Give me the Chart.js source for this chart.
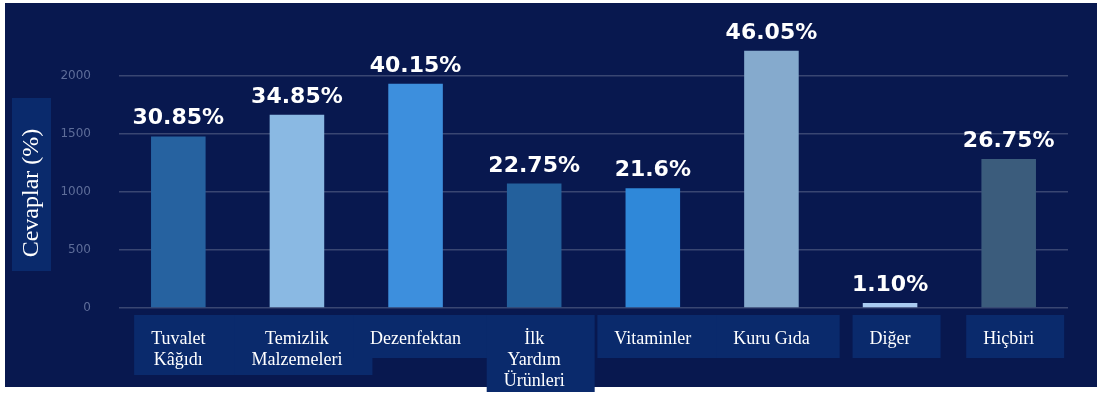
<!DOCTYPE html>
<html>
<head>
<meta charset="utf-8">
<script src="https://cdn.jsdelivr.net/npm/chart.js@4"></script>
<style>
  html, body { margin: 0; padding: 0; background: #ffffff; }
  #wrap {
    position: absolute; left: 5px; top: 3px;
    width: 1092px; height: 384px;
    background: #08184f;
  }
  #chart { position: absolute; left: 0; top: 0; }
</style>
</head>
<body>
<div id="wrap">
  <canvas id="chart" width="1092" height="392"></canvas>
</div>
<script>
const categories = [
  ['Tuvalet', 'Kâğıdı'],
  ['Temizlik', 'Malzemeleri'],
  'Dezenfektan',
  ['İlk', 'Yardım', 'Ürünleri'],
  'Vitaminler',
  'Kuru Gıda',
  'Diğer',
  'Hiçbiri'
];
const responses = [1477, 1664, 1931, 1072, 1032, 2216, 43, 1284];
const percentLabels = ['30.85%', '34.85%', '40.15%', '22.75%', '21.6%', '46.05%', '1.10%', '26.75%'];
const barColors = ['#2662a0', '#8ab9e3', '#3d8fdd', '#23609c', '#2f88d9', '#85aacd', '#a9cbf0', '#3b5c7c'];
const yTicks = [0, 500, 1000, 1500, 2000];
const yTitle = 'Cevaplar (%)';

const boxColor = '#0a2a6c';
const labelFont = '18px "Liberation Serif", "Times New Roman", serif';

// label boxes under the category names, plus the boxed y title
const boxes = {
  id: 'boxes',
  beforeDraw(chart) {
    const ctx = chart.ctx;
    const xs = chart.scales.x;
    const area = chart.chartArea;
    ctx.save();
    ctx.fillStyle = boxColor;
    ctx.font = labelFont;
    categories.forEach((c, i) => {
      const lines = Array.isArray(c) ? c : [c];
      const w = Math.max(...lines.map(l => ctx.measureText(l).width));
      const x = xs.getPixelForTick(i);
      const top = area.bottom + 7;
      const h = 26 + 17 * lines.length;
      ctx.fillRect(x - w / 2 - 17, top, w + 47, h);
    });
    // y title box
    ctx.fillRect(7, 95, 39, 173);
    ctx.translate(27, 190);
    ctx.rotate(-Math.PI / 2);
    ctx.fillStyle = '#ffffff';
    ctx.font = '24px "Liberation Serif", "Times New Roman", serif';
    ctx.textAlign = 'center';
    ctx.textBaseline = 'middle';
    ctx.fillText(yTitle, 0, 0);
    ctx.restore();
  }
};

// percent labels above the bars
const valueLabels = {
  id: 'valueLabels',
  afterDatasetsDraw(chart) {
    const ctx = chart.ctx;
    const meta = chart.getDatasetMeta(0);
    ctx.save();
    ctx.fillStyle = '#ffffff';
    ctx.font = 'bold 22px "DejaVu Sans", sans-serif';
    ctx.textAlign = 'center';
    ctx.textBaseline = 'alphabetic';
    meta.data.forEach((bar, i) => {
      ctx.fillText(percentLabels[i], bar.x, bar.y - 12);
    });
    ctx.restore();
  }
};

new Chart(document.getElementById('chart'), {
  type: 'bar',
  data: {
    labels: categories,
    datasets: [{
      data: responses,
      backgroundColor: barColors,
      borderWidth: 0,
      barPercentage: 0.46,
      categoryPercentage: 1
    }]
  },
  options: {
    responsive: false,
    animation: false,
    layout: { padding: { left: 53, right: 29, top: 17, bottom: 3 } },
    plugins: {
      legend: { display: false },
      tooltip: { enabled: false }
    },
    scales: {
      x: {
        afterFit(scale) {
          scale.height = 84;
          scale.paddingLeft = 0;
          scale.paddingRight = 0;
        },
        grid: { display: false, drawTicks: false },
        border: { display: false },
        ticks: {
          color: '#ffffff',
          font: { family: '"Liberation Serif", "Times New Roman", serif', size: 18, lineHeight: 1.17 },
          padding: 21,
          maxRotation: 0,
          autoSkip: false
        }
      },
      y: {
        min: 0,
        max: 2480,
        afterBuildTicks(scale) {
          scale.ticks = yTicks.map(v => ({ value: v }));
        },
        afterFit(scale) {
          scale.width = 61;
          scale.paddingTop = 0;
          scale.paddingBottom = 0;
        },
        grid: { color: 'rgba(255,255,255,0.2)', lineWidth: 1.5, drawTicks: false },
        border: { display: false },
        ticks: {
          color: '#5e6d99',
          font: { family: '"DejaVu Sans", sans-serif', size: 12 },
          padding: 28,
          callback: v => String(v)
        }
      }
    }
  },
  plugins: [boxes, valueLabels]
});
</script>
</body>
</html>
